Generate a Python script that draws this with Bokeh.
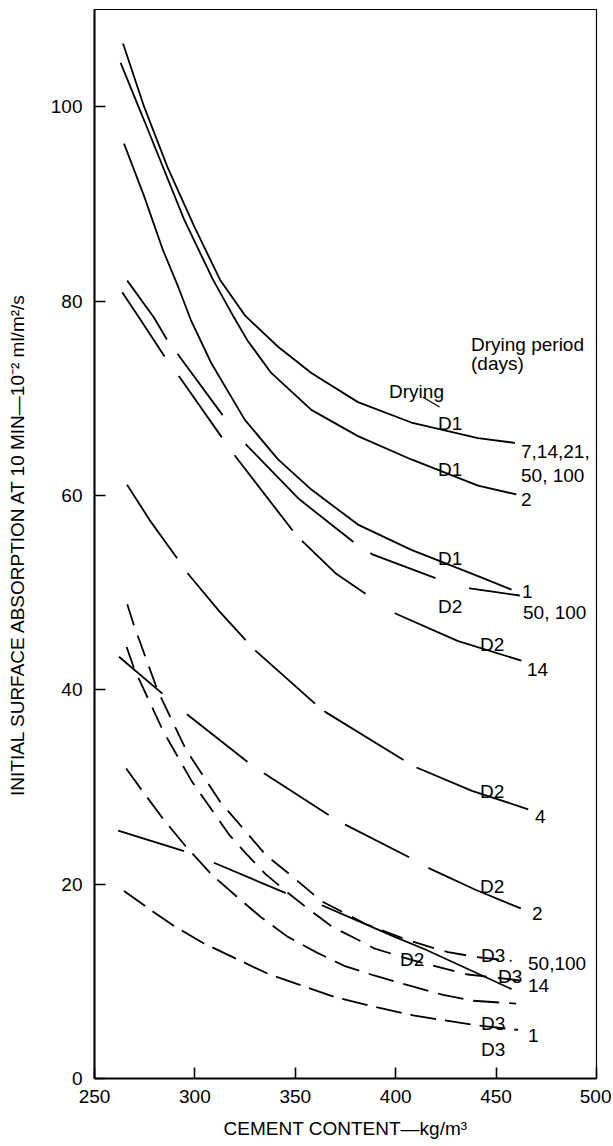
from bokeh.plotting import figure
from bokeh.embed import file_html
from bokeh.resources import INLINE
from bokeh.core.properties import value
from bokeh.models import FixedTicker, ColumnDataSource

FONT = "Liberation Sans"

# ---- axis ticks ----
x_ticks = [250, 300, 350, 400, 450, 500]
y_ticks = [0, 20, 40, 60, 80, 100]

# ---- D1 curves (solid) ----
d1_7_x = [264.2, 274.7, 286.3, 299.6, 312.5, 325.0, 341.4, 358.0, 381.2, 407.8, 441.0, 459.4]
d1_7_y = [106.5, 100.0, 93.8, 87.7, 82.2, 78.5, 75.3, 72.6, 69.6, 67.5, 65.9, 65.4]

d1_2_x = [263.0, 274.7, 294.6, 309.0, 319.5, 326.0, 338.0, 358.0, 381.2, 407.8, 441.0, 460.1]
d1_2_y = [104.5, 98.6, 88.4, 82.2, 78.3, 76.0, 72.6, 68.8, 66.1, 63.7, 61.0, 60.1]

d1_1_x = [264.7, 274.7, 283.8, 291.6, 297.9, 308.2, 324.8, 341.4, 358.0, 381.2, 407.8, 441.0, 457.7]
d1_1_y = [96.2, 90.8, 85.4, 81.5, 78.1, 73.6, 67.8, 63.7, 60.6, 57.0, 54.4, 51.7, 50.3]

# ---- D2 curves (long dash) ----
d2_50_x = [266.3, 279.6, 286.2, 291.6, 314.0, 325.6, 352.0, 379.6, 388.7, 421.1, 437.7, 461.8]
d2_50_y = [82.1, 78.3, 76.0, 74.5, 68.2, 65.2, 59.6, 55.1, 53.9, 51.4, 50.4, 49.7]

d2_14_x = [263.8, 272.5, 284.9, 292.6, 314.0, 320.6, 350.5, 370.0, 386.2, 400.4, 431.1, 462.6]
d2_14_y = [80.9, 78.2, 74.3, 72.1, 65.8, 63.9, 55.9, 52.0, 49.7, 47.8, 45.0, 43.0]

d2_4_x = [266.2, 278.0, 291.6, 295.9, 312.1, 325.3, 330.3, 360.2, 365.1, 404.5, 410.4, 438.0, 466.0]
d2_4_y = [61.1, 57.3, 53.4, 52.1, 48.1, 45.1, 44.0, 38.5, 37.7, 32.7, 32.0, 29.6, 27.7]

d2_2_x = [262.2, 283.8, 295.9, 326.1, 334.4, 366.8, 375.1, 407.3, 417.0, 440.0, 462.3]
d2_2_y = [43.4, 39.6, 37.5, 32.6, 31.4, 27.1, 26.1, 22.7, 21.6, 19.4, 17.5]

d2_low_x = [261.8, 294.6, 309.5, 345.0, 363.5, 389.2, 400.4, 414.5, 457.7]
d2_low_y = [25.5, 23.4, 22.2, 19.1, 17.8, 15.5, 14.5, 13.3, 9.2]

# ---- D3 curves (short dash) ----
d3_50_x = [266.3, 269.7, 281.3, 295.4, 312.5, 335.3, 346.1, 359.3, 363.5, 385.0, 406.6, 417.8, 426.1, 440.2, 457.7]
d3_50_y = [48.8, 46.6, 40.0, 33.9, 28.5, 23.0, 21.2, 18.9, 18.2, 15.9, 14.2, 13.5, 13.0, 12.5, 12.1]

d3_14_x = [266.0, 269.7, 284.3, 298.4, 317.0, 326.1, 335.3, 345.8, 356.1, 368.5, 381.9, 389.2, 407.9, 436.0, 461.8]
d3_14_y = [44.4, 42.2, 35.7, 30.6, 25.1, 23.0, 21.0, 19.2, 17.5, 15.6, 14.2, 13.4, 12.2, 10.7, 10.1]

d3_mid_x = [265.8, 273.8, 284.6, 295.4, 308.7, 322.1, 332.9, 346.1, 360.3, 374.3, 389.2, 406.1, 423.6, 438.6, 460.0]
d3_mid_y = [31.9, 29.6, 26.6, 23.9, 20.9, 18.5, 16.6, 14.6, 13.0, 11.6, 10.6, 9.6, 8.6, 8.0, 7.7]

d3_1_x = [264.7, 279.6, 289.6, 304.5, 336.1, 369.3, 389.2, 408.7, 423.6, 439.4, 460.9]
d3_1_y = [19.3, 17.1, 15.7, 13.9, 10.8, 8.4, 7.4, 6.5, 6.0, 5.5, 5.0]

# ---- annotation texts ----
label_text = ["Drying period", "(days)", "Drying", "D1", "7,14,21,", "D1", "50, 100", "2",
              "D1", "1", "D2", "50, 100", "D2", "14", "D2", "4", "D2", "2",
              "D3", "50,100", "D2", "D3", "14", "D3", "1", "D3"]
label_x = [437.5, 437.5, 396.7, 421.1, 462.4, 421.1, 462.4, 462.4,
           421.1, 462.9, 421.1, 463.4, 442.0, 465.4, 442.0, 469.4, 442.0, 467.9,
           442.5, 465.9, 402.1, 450.9, 465.9, 442.5, 465.9, 442.5]
label_y = [75.5, 73.6, 70.7, 67.4, 64.5, 62.7, 62.1, 59.6,
           53.5, 50.1, 48.6, 48.0, 44.7, 42.1, 29.5, 27.0, 19.8, 17.0,
           12.7, 11.8, 12.2, 10.5, 9.6, 5.7, 4.4, 3.0]

leader_x0 = [413.6]
leader_y0 = [70.1]
leader_x1 = [421.9]
leader_y1 = [69.1]

p = figure(frame_width=502, frame_height=1069, x_range=(250, 500), y_range=(0, 110),
           output_backend="svg", toolbar_location=None,
           min_border_left=94, min_border_right=15, min_border_top=9, min_border_bottom=66,
           background_fill_color="white", border_fill_color="white")
p.grid.visible = False
p.outline_line_color = "black"
p.outline_line_width = 1.2

for ax in (p.xaxis, p.yaxis):
    ax.minor_tick_line_color = None
    ax.major_tick_in = 11
    ax.major_tick_out = 0
    ax.axis_line_width = 2
    ax.axis_line_color = "black"
    ax.major_tick_line_width = 1.6
    ax.major_tick_line_color = "black"
    ax.major_label_text_font = FONT
    ax.major_label_text_font_size = "19px"
    ax.major_label_text_color = "black"
    ax.axis_label_text_font = FONT
    ax.axis_label_text_font_size = "19px"
    ax.axis_label_text_font_style = "normal"
    ax.axis_label_text_color = "black"

p.xaxis.ticker = FixedTicker(ticks=x_ticks)
p.yaxis.ticker = FixedTicker(ticks=y_ticks)
p.xaxis.major_label_standoff = 11
p.xaxis.axis_label_standoff = 12
p.yaxis.major_label_standoff = 12
p.yaxis.axis_label_standoff = 20
p.xaxis.axis_label = "CEMENT CONTENT\u2014kg/m\u00b3"
p.yaxis.axis_label = "INITIAL SURFACE ABSORPTION AT 10 MIN\u201410\u207b\u00b2 ml/m\u00b2/s"

LW = 1.8
curves = [
    (d1_7_x, d1_7_y, "solid"),
    (d1_2_x, d1_2_y, "solid"),
    (d1_1_x, d1_1_y, "solid"),
    (d2_50_x, d2_50_y, "71 18 76 37 146 20 70 35 60"),
    (d2_14_x, d2_14_y, "77 24 75 22 95 14 83 35 140"),
    (d2_4_x, d2_4_y, "89 18 89 14 80 12 93 15 130"),
    (d2_2_x, d2_2_y, "57 32 77 20 77 19 72 22 110"),
    (d2_low_x, d2_low_y, "69 32 78 38 260"),
    (d3_50_x, d3_50_y, "22 11"),
    (d3_14_x, d3_14_y, "22 11"),
    (d3_mid_x, d3_mid_y, "26 10"),
    (d3_1_x, d3_1_y, "26 9"),
]
for xs, ys, dash in curves:
    p.line(xs, ys, line_color="black", line_width=LW, line_dash=dash)

p.segment(x0=leader_x0, y0=leader_y0, x1=leader_x1, y1=leader_y1,
          line_color="black", line_width=1.2)

src = ColumnDataSource(dict(x=label_x, y=label_y, t=label_text))
p.text(x="x", y="y", text="t", source=src, text_font=value(FONT),
       text_font_size="19px", text_color="black",
       text_align="left", text_baseline="alphabetic")

open("out.html", "w").write(file_html(p, INLINE))
